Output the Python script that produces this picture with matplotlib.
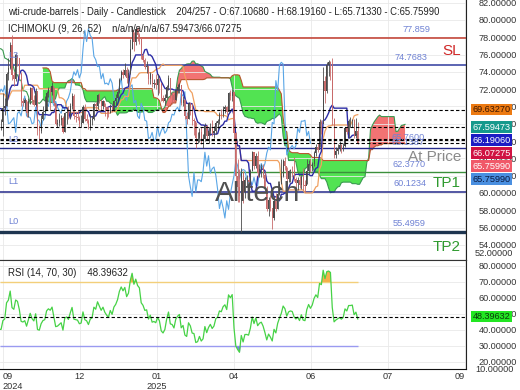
import numpy as np
import pandas as pd
import matplotlib
matplotlib.use("Agg")
import matplotlib.pyplot as plt

plt.rcParams["font.family"] = ["Liberation Sans", "DejaVu Sans"]

# 52 daily bars before the visible window (indicator warm-up), then 199 visible bars
PRE = 52
highs = [
    82.6, 81.9, 83.6, 83.4, 82.7, 80.6, 79.6, 78.0, 78.9, 78.3, 77.3, 76.0, 78.2,
    78.8, 76.6, 74.4, 74.2, 76.5, 76.6, 77.2, 80.2, 80.2, 78.6, 78.8, 78.2, 76.8,
    74.6, 73.4, 73.2, 75.3, 77.6, 77.5, 75.8, 76.4, 76.0, 73.9, 70.5, 70.0, 69.5,
    69.1, 68.9, 67.6, 69.2, 69.6, 70.3, 71.5, 72.0, 72.4, 72.3, 72.0, 72.4, 71.7,
    # visible
    69.5, 68.5, 68.6,
    71.5, 71.0, 74.0, 75.6, 77.5, 78.3, 74.0, 76.2, 76.0, 75.6, 74.0, 71.0, 71.0,
    70.6, 71.0, 72.3, 72.3, 71.3, 72.1, 69.5, 67.8, 69.0, 70.0,
    71.2, 71.8, 72.2, 72.2, 72.8, 72.2, 70.3, 68.6, 69.2, 69.0, 68.9, 69.4, 69.9,
    70.0, 70.4, 71.5, 71.4, 69.3, 69.6, 68.9,
    69.0, 70.2, 70.3, 69.1, 68.6, 69.1, 68.9, 70.4, 70.5, 71.4, 71.5, 70.8, 70.8,
    70.4, 69.9, 70.0, 70.3, 70.1, 70.8, 71.4, 72.0,
    73.3, 74.2, 74.3, 75.0, 74.6, 74.3, 77.8, 79.3, 78.6, 79.3, 79.2, 78.5, 77.7,
    76.2, 75.6, 75.2, 74.5, 74.0, 73.7, 73.2, 73.8,
    73.8, 73.3, 72.4, 71.3, 71.4, 72.5, 73.6, 73.3, 71.7, 71.5, 72.0, 72.6, 72.7,
    72.5, 71.2, 70.9, 69.4, 70.5, 70.3,
    70.4, 68.7, 68.2, 67.0, 67.5, 67.6, 66.8, 68.1, 67.9, 67.6, 68.1, 68.4, 67.7,
    68.3, 68.5, 69.3, 69.7, 70.0, 70.2, 70.1, 71.7,
    71.9, 72.0, 71.4, 67.1, 63.9, 62.8, 62.9, 62.5, 61.9, 62.1, 61.8, 62.8, 64.9,
    64.6, 64.6, 64.9, 63.3, 63.3, 63.3, 62.4, 60.8,
    59.5, 59.8, 57.9, 59.6, 60.0, 61.4, 61.4, 63.9, 63.9, 64.2, 63.0, 62.7, 62.8,
    63.1, 64.2, 61.8, 61.8, 62.0, 62.1, 62.9, 61.5,
    63.9, 63.8, 63.9, 63.6, 64.8, 65.6, 65.8, 68.6, 68.4, 74.5, 73.5, 75.1, 75.4,
    75.3, 75.6, 68.7, 65.3, 65.6, 66.0, 65.6,
    65.8, 67.6, 67.9, 68.6, 68.8, 68.6, 68.6, 68.7, 68.19,
]
lows = [
    81.2, 80.3, 80.6, 82.0, 79.8, 79.0, 76.8, 76.4, 77.0, 76.9, 75.5, 74.0, 74.6,
    75.6, 72.9, 71.7, 72.2, 73.1, 74.8, 75.9, 76.6, 78.0, 76.3, 76.4, 76.4, 74.2,
    72.8, 71.5, 71.5, 72.9, 74.9, 75.2, 74.0, 74.4, 73.3, 69.9, 68.5, 68.4, 67.2,
    67.5, 65.3, 65.5, 66.9, 68.1, 68.5, 70.0, 70.3, 71.0, 71.0, 69.8, 70.0, 69.5,
    # visible
    67.3, 67.1, 67.3,
    66.6, 69.0, 70.0, 73.1, 74.3, 73.0, 72.4, 72.9, 74.7, 73.2, 70.1, 70.1, 69.7,
    68.8, 68.8, 70.3, 70.3, 70.0, 70.0, 66.7, 65.8, 66.9, 68.4,
    69.2, 69.6, 71.1, 69.6, 71.3, 70.1, 67.9, 67.6, 67.7, 67.8, 66.9, 67.0, 68.0,
    68.6, 68.6, 69.7, 68.6, 68.2, 68.4, 67.6,
    67.6, 68.1, 68.3, 68.1, 67.4, 67.3, 67.8, 68.4, 69.5, 69.7, 70.4, 69.6, 69.7,
    68.9, 68.5, 68.8, 69.2, 69.4, 69.5, 70.2, 70.8,
    71.6, 73.0, 73.3, 73.5, 72.7, 72.6, 73.8, 76.6, 76.4, 77.1, 77.6, 77.2, 75.5,
    75.1, 74.3, 73.9, 72.6, 72.6, 72.3, 72.1, 72.0,
    71.3, 71.6, 70.6, 70.5, 70.2, 71.0, 71.9, 71.0, 70.3, 70.5, 70.7, 71.6, 71.6,
    70.2, 70.0, 68.6, 68.0, 68.6, 69.0,
    67.9, 66.7, 65.2, 65.8, 65.9, 65.6, 65.2, 66.0, 66.2, 65.8, 66.8, 66.6, 66.4,
    66.8, 67.4, 68.0, 68.6, 68.8, 69.2, 69.0, 69.3,
    70.8, 70.6, 66.0, 61.2, 58.9, 58.9, 55.5, 58.8, 59.4, 60.8, 60.6, 60.9, 62.5,
    62.8, 62.9, 61.9, 61.9, 61.8, 61.7, 60.2, 57.9,
    57.3, 57.9, 55.8, 56.9, 57.9, 58.1, 59.8, 61.0, 61.8, 62.7, 60.6, 61.3, 61.3,
    61.8, 61.4, 60.1, 60.3, 60.6, 60.5, 60.3, 60.1,
    61.0, 62.2, 62.4, 62.5, 63.1, 64.3, 64.7, 65.3, 66.8, 68.8, 70.4, 71.6, 73.5,
    73.1, 67.9, 64.0, 64.0, 64.5, 64.9, 64.6,
    64.8, 65.3, 66.8, 66.4, 67.6, 67.6, 66.3, 66.4, 65.71,
]
closes = [
    81.9, 80.8, 82.85, 82.8, 80.1, 79.8, 77.0, 77.6, 78.3, 77.2, 75.8, 74.7, 77.9,
    76.3, 73.5, 72.9, 73.2, 75.2, 76.2, 76.8, 80.1, 78.35, 77.0, 78.2, 76.65, 74.4,
    73.2, 71.9, 73.0, 74.8, 77.4, 75.5, 74.5, 75.9, 73.55, 70.3, 69.2, 69.15, 67.7,
    68.7, 65.75, 67.3, 69.0, 68.65, 70.1, 71.2, 70.9, 71.95, 71.9, 70.4, 71.55, 69.7,
    # visible
    67.7, 68.2, 68.2,
    69.8, 70.1, 73.7, 74.4, 77.1, 73.6, 73.2, 75.9, 75.6, 73.8, 70.6, 70.4, 70.7,
    69.2, 70.6, 72.1, 70.8, 70.2, 71.8, 67.4, 67.2, 68.6, 69.3,
    69.5, 71.5, 72.0, 71.7, 72.4, 70.4, 68.0, 68.1, 68.4, 68.7, 67.0, 69.2, 69.4,
    68.9, 70.1, 71.2, 68.9, 68.8, 68.7, 68.0,
    68.1, 69.9, 68.5, 68.3, 67.6, 68.4, 68.6, 70.3, 70.0, 71.3, 70.7, 70.1, 70.6,
    69.9, 69.5, 69.2, 70.1, 69.6, 70.6, 71.0, 71.7,
    73.1, 74.0, 73.6, 74.25, 73.3, 73.9, 76.6, 78.8, 77.5, 79.0, 78.2, 77.9, 75.8,
    75.4, 74.6, 74.7, 73.2, 73.8, 72.6, 72.7, 72.5,
    73.2, 72.7, 71.0, 70.6, 71.0, 72.3, 73.3, 71.4, 71.3, 70.7, 71.85, 72.25, 72.5,
    70.4, 70.7, 68.9, 68.6, 70.35, 69.8,
    68.4, 68.3, 66.3, 66.4, 67.0, 66.0, 66.25, 67.7, 66.55, 67.2, 67.6, 66.9, 67.2,
    68.1, 68.3, 69.1, 69.0, 69.65, 69.9, 69.4, 71.5,
    71.2, 71.7, 66.95, 62.0, 60.7, 59.6, 62.35, 60.1, 61.5, 61.5, 61.3, 62.5, 64.7,
    63.1, 64.3, 62.3, 62.8, 63.0, 62.05, 60.4, 58.2,
    59.2, 58.3, 57.1, 59.1, 58.1, 59.9, 61.0, 62.0, 63.7, 63.15, 61.6, 62.5, 62.7,
    62.6, 61.6, 61.2, 61.5, 60.9, 61.8, 60.9, 60.8,
    62.5, 63.4, 62.85, 63.4, 64.6, 65.3, 64.98, 68.15, 68.0, 72.98, 71.8, 74.8, 75.1,
    74.9, 68.5, 64.4, 64.9, 65.2, 65.5, 65.1,
    65.45, 67.45, 67.0, 68.3, 68.3, 68.4, 66.6, 67.1068, 65.7599,
]

# horizontal levels
sl_level = 77.859
top_level = 74.7683
dashed_levels = [69.6327, 67.59473, 66.1906, 66.07275, 65.7599]
price_level = 65.1387
tp1_level = 62.377
l1_level = 60.1234
l0_level = 55.4959

# last values shown on the right axis
last_values = [69.63270, 67.59473, 66.19060, 66.07275, 65.75990, 65.75990]
last_colors = ["#ec7a12", "#16998c", "#1c1cc4", "#d01243", "#f05868", "#4a8fe0"]
last_text = ["#3a1500", "white", "white", "white", "white", "#0a1a40"]

rsi_last = 48.39632
grid_months = ["09\n2024", "12", "01\n2025", "04", "06", "07", "09"]

# ---------------------------------------------------------------- indicators
hi = pd.Series(highs, dtype=float)
lo = pd.Series(lows, dtype=float)
cl = pd.Series(closes, dtype=float)
op = cl.shift(1).fillna(cl.iloc[0])
tenkan = (hi.rolling(9).max() + lo.rolling(9).min()) / 2
kijun = (hi.rolling(26).max() + lo.rolling(26).min()) / 2
span_a = (tenkan + kijun) / 2
span_b = (hi.rolling(52).max() + lo.rolling(52).min()) / 2
delta = cl.diff()
gain = delta.clip(lower=0).ewm(alpha=1 / 14, adjust=False).mean()
loss = (-delta.clip(upper=0)).ewm(alpha=1 / 14, adjust=False).mean()
rsi = 100 - 100 / (1 + gain / loss)

idx = np.arange(len(closes)) - PRE
vis = idx >= 0
x = idx[vis]

XMIN, XMAX = 1.4, 257.5
grid_x = [3.0, 45.3, 87.6, 129.9, 172.2, 214.5, 256.8]
FS = 6.6

fig = plt.figure(figsize=(5.2, 3.9), dpi=100)
ax = fig.add_axes([0, 130 / 390, 466 / 520, 260 / 390])
ax2 = fig.add_axes([0, 21 / 390, 466 / 520, 109 / 390])

# ---------------------------------------------------------------- price panel
ax.set_xlim(XMIN, XMAX)
ax.set_ylim(52.25, 82.3)
ax.set_xticks(grid_x)
ax.set_yticks(np.arange(54, 84, 2))
ax.yaxis.tick_right()
ax.yaxis.set_major_formatter(matplotlib.ticker.FormatStrFormatter("%.5f"))
ax.tick_params(axis="y", length=0, pad=9, labelsize=FS, labelcolor="#333333")
ax.tick_params(axis="x", length=0, labelbottom=False)
ax.grid(color="#e9e9e9", lw=0.6, zorder=0)
for s in ["left", "top"]:
    ax.spines[s].set_visible(False)
ax.spines["right"].set_color("#222222")
ax.spines["bottom"].set_color("#333333")

# cloud
xs = idx + 26
ok = span_b.notna().values
sa, sb = span_a.values, span_b.values
ax.fill_between(xs[ok], sa[ok], sb[ok], where=sb[ok] >= sa[ok], interpolate=True,
                color="#3fe03f", alpha=0.9, lw=0, zorder=1)
ax.fill_between(xs[ok], sa[ok], sb[ok], where=sa[ok] > sb[ok], interpolate=True,
                color="#f05a5a", alpha=0.85, lw=0, zorder=1)
ax.plot(xs, sa, color="#3a9a50", lw=0.8, zorder=2)
ax.plot(xs, sb, color="#b8562e", lw=0.8, zorder=2)

# level lines
ax.axhline(sl_level, color="#c0392b", lw=1.1, zorder=2)
ax.axhline(top_level, color="#2f3b9e", lw=1.1, zorder=2)
for v in dashed_levels:
    ax.axhline(v, color="black", lw=0.8, ls=(0, (3, 2)), zorder=5)
ax.axhline(price_level, color="#252a8a", lw=1.0, zorder=2)
ax.axhline(tp1_level, color="#3c8f3c", lw=1.0, zorder=2)
ax.axhline(l1_level, color="#252a8a", lw=1.1, zorder=2)
ax.axhline(l0_level, color="#1e3550", lw=2.4, zorder=2)

# chikou, tenkan, kijun
ax.plot(idx[vis] - 26, cl[vis], color="#5aa6e6", lw=0.8, zorder=3)
ax.plot(x, kijun[vis], color="#f0a060", lw=0.9, zorder=3)
ax.plot(x, tenkan[vis], color="#2c2ca6", lw=1.0, zorder=3)

# candles
o, h, l, c = op[vis].values, hi[vis].values, lo[vis].values, cl[vis].values
cols = np.where(c >= o, "#4a4a4a", "#c86a6a")
ax.vlines(x, l, h, colors=cols, lw=0.6, zorder=4)
ax.bar(x, np.abs(c - o), bottom=np.minimum(o, c), width=0.6, color=cols, lw=0, zorder=4)

# level labels
lab = dict(color="#6f82d4", fontsize=FS, ha="right", va="bottom", zorder=6)
tr = ax.get_yaxis_transform()
ax.text(430 / 466, sl_level + 0.5, "77.859", transform=tr, **lab)
ax.text(427 / 466, top_level + 0.4, "74.7683", transform=tr, **lab)
ax.text(425 / 466, 65.85, "65.7600", transform=tr, **lab)
ax.text(425 / 466, 65.3, "65.1387", transform=tr, **lab)
ax.text(426 / 466, tp1_level + 0.4, "62.3770", transform=tr, **lab)
ax.text(426 / 466, l1_level + 0.4, "60.1234", transform=tr, **lab)
ax.text(426 / 466, l0_level + 0.4, "55.4959", transform=tr, **lab)
side = dict(color="#6f82d4", fontsize=FS, ha="left", va="bottom", zorder=6)
ax.text(8 / 466, top_level + 0.6, "L3", transform=tr, **side)
ax.text(8 / 466, price_level + 0.5, "L2", transform=tr, **side)
ax.text(8 / 466, l1_level + 0.7, "L1", transform=tr, **side)
ax.text(8 / 466, l0_level + 0.7, "L0", transform=tr, **side)
big = dict(fontsize=11, ha="right", va="center", transform=tr, zorder=6)
ax.text(461 / 466, 76.4, "SL", color="#d02828", **big)
ax.text(461 / 466, 64.1, "At Price", color="#8a8a8a", **big)
ax.text(461 / 466, 61.1, "TP1", color="#2f9a2f", **big)
ax.text(461 / 466, 53.7, "TP2", color="#2f9a2f", **big)
ax.text(258 / 466, 59.9, "Alltech", color="#505050", fontsize=20.5, ha="center",
        va="center", transform=tr, zorder=6)

# stacked last-value boxes on the right axis
step = 13 * (82.3 - 52.25) / 260
ypos = []
for v in last_values:
    ypos.append(v if not ypos else min(v, ypos[-1] - step))
for yv, txt, bg, fg in zip(ypos, last_values, last_colors, last_text):
    ax.text(1.014, yv, f"{txt:.5f}", transform=tr, fontsize=FS, color=fg,
            ha="left", va="center", zorder=7,
            bbox=dict(boxstyle="square,pad=0.15", fc=bg, ec="none"))
fig.text(475 / 520, 1 - 254 / 390, "52.00000", fontsize=FS, color="#333333", va="center")

fig.text(8 / 520, 1 - 12 / 390,
         "wti-crude-barrels - Daily - Candlestick    204/257 - O:67.10680 - H:68.19160 - L:65.71330 - C:65.75990",
         fontsize=6.85, color="#222222", va="center")
fig.text(8 / 520, 1 - 29 / 390, "ICHIMOKU (9, 26, 52)    n/a/n/a/n/a/67.59473/66.07275",
         fontsize=6.85, color="#222222", va="center")

# ---------------------------------------------------------------- RSI panel
ax2.set_xlim(XMIN, XMAX)
ax2.set_ylim(15.6, 83.75)
ax2.set_yticks(np.arange(20, 90, 10))
ax2.yaxis.tick_right()
ax2.yaxis.set_major_formatter(matplotlib.ticker.FormatStrFormatter("%.5f"))
ax2.tick_params(axis="y", length=0, pad=9, labelsize=FS, labelcolor="#333333")
ax2.set_xticks(grid_x)
ax2.set_xticklabels(grid_months, fontsize=FS, color="#333333")
ax2.tick_params(axis="x", length=0, pad=2)
xt = ax2.get_xticklabels()
xt[0].set_horizontalalignment("left")
xt[-1].set_horizontalalignment("right")
ax2.grid(color="#e9e9e9", lw=0.6, zorder=0)
ax2.spines["left"].set_visible(False)
ax2.spines["top"].set_color("#333333")
ax2.spines["right"].set_color("#222222")
ax2.spines["bottom"].set_color("#111111")

r = rsi[vis].values
ax2.hlines(70, XMIN, x[-1], color="#f3cf7a", lw=1.0, zorder=2)
ax2.hlines(30, XMIN, x[-1], color="#9a9af0", lw=1.0, zorder=2)
ax2.fill_between(x, r, 70, where=r > 70, interpolate=True, color="#f5b04a", lw=0, zorder=2)
ax2.fill_between(x, r, 30, where=r < 30, interpolate=True, color="#7f7ff0", lw=0, zorder=2)
ax2.plot(x, r, color="#46d246", lw=0.9, zorder=3)
ax2.axhline(rsi_last, color="black", lw=0.8, ls=(0, (3, 2)), zorder=4)
ax2.text(8 / 466, 75.6, "RSI (14, 70, 30)    48.39632", transform=ax2.get_yaxis_transform(),
         fontsize=7.0, color="#222222", va="center")
ax2.text(1.014, rsi_last, f"{rsi_last:.5f}", transform=ax2.get_yaxis_transform(),
         fontsize=FS, color="#0a3a0a", ha="left", va="center", zorder=7,
         bbox=dict(boxstyle="square,pad=0.15", fc="#22e622", ec="none"))
fig.text(475 / 520, 1 - 369 / 390, "10.00000", fontsize=FS, color="#333333", va="center")

plt.savefig("out.png", dpi=100)
plt.close()
